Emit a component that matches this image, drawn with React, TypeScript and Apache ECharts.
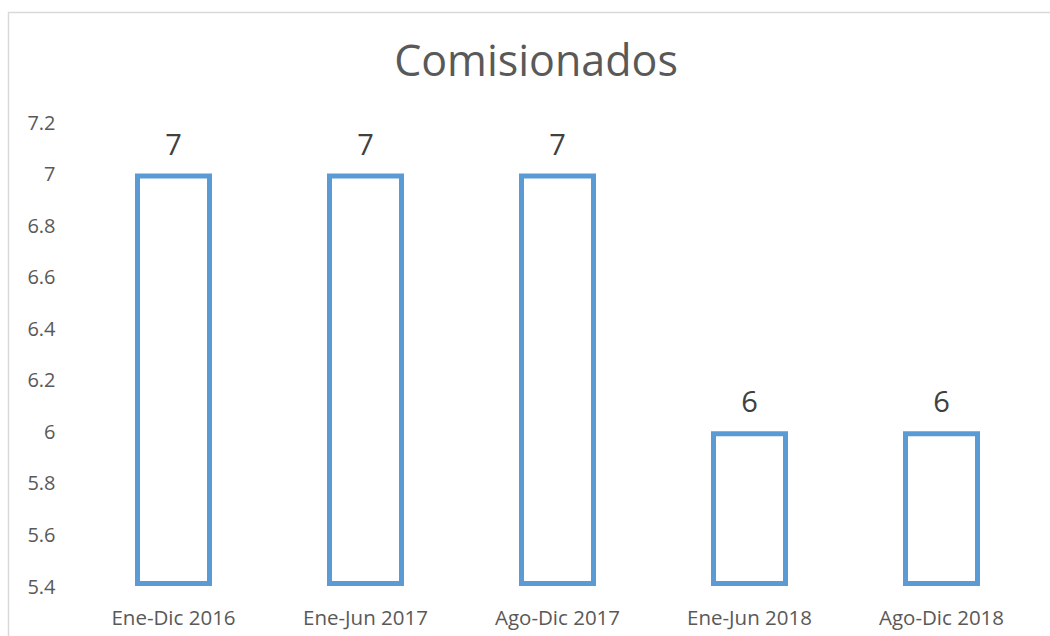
import React, { useEffect, useRef } from "react";
import * as echarts from "echarts";

const categories = ["Ene-Dic 2016", "Ene-Jun 2017", "Ago-Dic 2017", "Ene-Jun 2018", "Ago-Dic 2018"];
const values = [7, 7, 7, 6, 6];
const yMin = 5.4;
const yMax = 7.2;
const yStep = 0.2;
const title = "Comisionados";

export default function App() {
  const ref = useRef<HTMLDivElement>(null);
  useEffect(() => {
    if (!ref.current) return;
    const chart = echarts.init(ref.current, null, { renderer: "svg" });
    chart.setOption({
      animation: false,
      backgroundColor: "#ffffff",
      textStyle: { fontFamily: "Open Sans" },
      graphic: [
        {
          type: "rect",
          shape: { x: 8.5, y: 12.5, width: 1100, height: 700 },
          style: { fill: "none", stroke: "#d9d9d9", lineWidth: 1.5 },
          silent: true,
        },
      ],
      title: {
        text: title,
        left: 531,
        top: 33,
        textAlign: "center",
        textStyle: { fontFamily: "Open Sans", fontSize: 43, fontWeight: "normal", color: "#595959" },
      },
      grid: { left: 77.5, right: 12.5, top: 122, bottom: 50, containLabel: false },
      xAxis: {
        type: "category",
        data: categories,
        axisLine: { show: false },
        axisTick: { show: false },
        axisLabel: { color: "#595959", fontSize: 20.5, margin: 20, fontFamily: "Open Sans" },
      },
      yAxis: {
        type: "value",
        min: yMin,
        max: yMax,
        interval: yStep,
        startValue: yMin,
        axisLine: { show: false },
        axisTick: { show: false },
        splitLine: { show: false },
        axisLabel: { color: "#595959", fontSize: 20, margin: 22, fontFamily: "Open Sans" },
      },
      series: [
        {
          type: "bar",
          data: values,
          barWidth: 77,
          itemStyle: { color: "#ffffff", borderColor: "#5b9bd5", borderWidth: 5 },
          label: {
            show: true,
            position: "top",
            distance: 16,
            color: "#404040",
            fontSize: 29,
            fontFamily: "Open Sans",
          },
        },
      ],
    });
    return () => chart.dispose();
  }, []);
  return (
    <div
      ref={ref}
      style={{ position: "absolute", left: 0, top: 0, width: 1050, height: 636 }}
    />
  );
}
